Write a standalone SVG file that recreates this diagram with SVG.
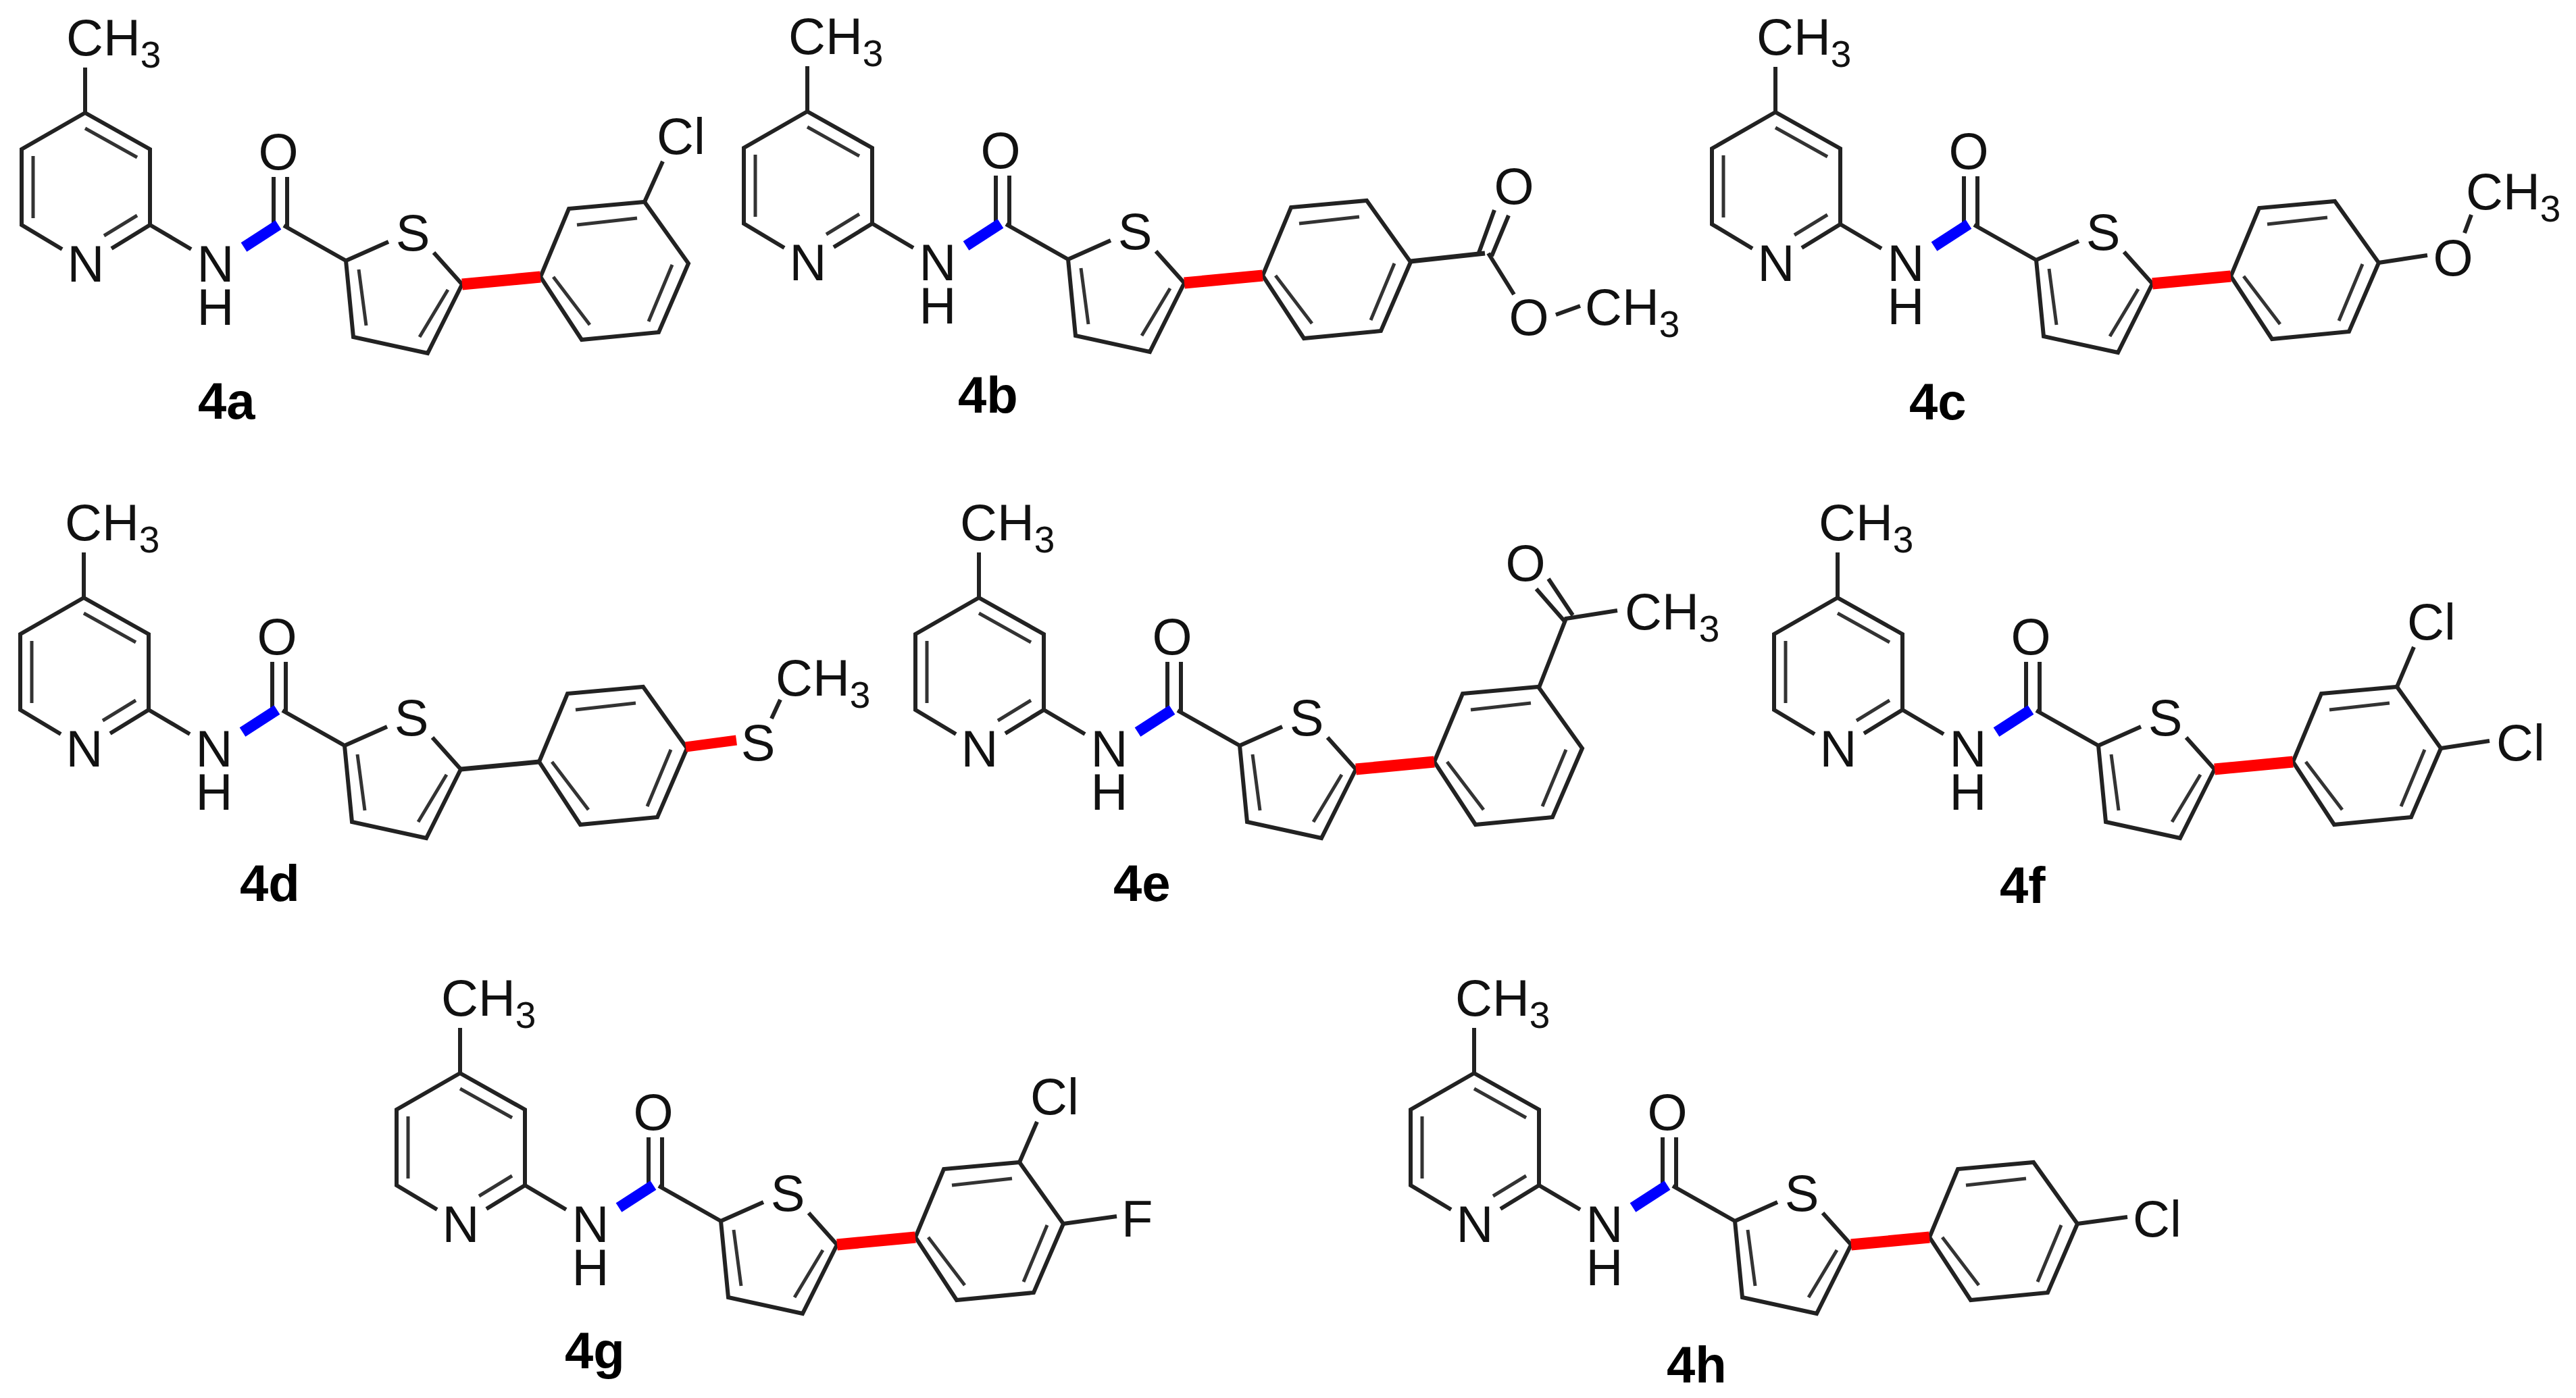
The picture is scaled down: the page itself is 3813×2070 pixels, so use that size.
<svg xmlns="http://www.w3.org/2000/svg" xmlns:xlink="http://www.w3.org/1999/xlink" width="3813" height="2070" viewBox="0 0 3813 2070">
<style>
.b{fill:none;stroke:#222;stroke-width:6;stroke-linecap:butt;stroke-linejoin:miter}
.i{fill:none;stroke:#333;stroke-width:5}
.red{fill:none;stroke:#f00;stroke-width:17}
.blue{fill:none;stroke:#00f;stroke-width:16}
.blk{fill:none;stroke:#222;stroke-width:7}
text{font-family:"Liberation Sans",Arial,sans-serif;font-size:76px;fill:#111}
.m{text-anchor:middle}
.s{font-size:55px}
.lab{font-weight:bold;font-size:76px;fill:#000}
</style>
<defs>
<g id="core">
<path class="b" d="M126 100V167L222 221V333L165 368M92 369L32 333V221L126 167M222 333L283 369M405 262V337M425 262V337M420 334L512 386L523 499L633 523L684 421L642 374M512 386L575 358M800 410L842 309L954 299L1019 390L975 492L861 503Z"/>
<path class="i" d="M49 231V323M126 190L203 233M203 319L154 349M531 399L542 482M663 429L621 499M854 333L943 323M995 392L960 476M873 481L819 410"/>
<path class="blue" d="M361 366L412 333"/>
</g>
</defs>

<g id="mol-4a">
<g id="mol-4a-bonds"><use href="#core"/><path class="red" d="M684 421L800 410"/><path class="b" d="M954 299L981 239"/></g>
<g id="mol-4a-atoms">
<text x="98" y="82">CH<tspan class="s" dy="18">3</tspan></text><text class="m" x="127" y="417">N</text><text class="m" x="319" y="417">N<tspan x="319" dy="64">H</tspan></text><text class="m" x="412" y="251">O</text><text class="m" x="611" y="371">S</text>
<text x="972" y="228">Cl</text></g>
<text class="lab" x="293" y="620">4a</text>
</g>

<g id="mol-4b">
<g id="mol-4b-bonds" transform="translate(1069,-2)"><use href="#core"/><path class="red" d="M684 421L800 410"/></g>
<g id="mol-4b-sub-bonds"><path class="blk" d="M2088 387L2198 375"/><path class="b" d="M2188 377L2212 311M2208 379L2233 319M2203 375L2241 436M2303 466L2339 453"/></g>
<g id="mol-4b-atoms" transform="translate(1069,-2)">
<text x="98" y="82">CH<tspan class="s" dy="18">3</tspan></text><text class="m" x="127" y="417">N</text><text class="m" x="319" y="417">N<tspan x="319" dy="64">H</tspan></text><text class="m" x="412" y="251">O</text><text class="m" x="611" y="371">S</text></g>
<text class="m" x="2241" y="302">O</text><text class="m" x="2263" y="496">O</text><text x="2346" y="481">CH<tspan class="s" dy="18">3</tspan></text>
<text class="lab" x="1418" y="611">4b</text>
</g>

<g id="mol-4c">
<g id="mol-4c-bonds" transform="translate(2502,-1)"><use href="#core"/><path class="red" d="M684 421L800 410"/></g>
<g id="mol-4c-sub-bonds"><path class="b" d="M3521 389L3593 378M3648 345L3658 318"/></g>
<g id="mol-4c-atoms" transform="translate(2502,-1)">
<text x="98" y="82">CH<tspan class="s" dy="18">3</tspan></text><text class="m" x="127" y="417">N</text><text class="m" x="319" y="417">N<tspan x="319" dy="64">H</tspan></text><text class="m" x="412" y="251">O</text><text class="m" x="611" y="371">S</text></g>
<text class="m" x="3631" y="408">O</text><text x="3650" y="310">CH<tspan class="s" dy="18">3</tspan></text>
<text class="lab" x="2826" y="621">4c</text>
</g>

<g id="mol-4d">
<g id="mol-4d-bonds" transform="translate(-2,718)"><use href="#core"/><path class="blk" d="M684 421L800 410"/></g>
<g id="mol-4d-sub-bonds"><path class="red" d="M1015 1106L1090 1096" style="stroke-width:15"/><path class="b" d="M1142 1064L1155 1036"/></g>
<g id="mol-4d-atoms" transform="translate(-2,718)">
<text x="98" y="82">CH<tspan class="s" dy="18">3</tspan></text><text class="m" x="127" y="417">N</text><text class="m" x="319" y="417">N<tspan x="319" dy="64">H</tspan></text><text class="m" x="412" y="251">O</text><text class="m" x="611" y="371">S</text></g>
<text class="m" x="1122" y="1126">S</text><text x="1148" y="1030">CH<tspan class="s" dy="18">3</tspan></text>
<text class="lab" x="355" y="1334">4d</text>
</g>

<g id="mol-4e">
<g id="mol-4e-bonds" transform="translate(1323,718)"><use href="#core"/><path class="red" d="M684 421L800 410"/></g>
<g id="mol-4e-sub-bonds"><path class="b" d="M2278 1018L2318 916L2394 904M2274 872L2316 920M2292 857L2328 911"/></g>
<g id="mol-4e-atoms" transform="translate(1323,718)">
<text x="98" y="82">CH<tspan class="s" dy="18">3</tspan></text><text class="m" x="127" y="417">N</text><text class="m" x="319" y="417">N<tspan x="319" dy="64">H</tspan></text><text class="m" x="412" y="251">O</text><text class="m" x="611" y="371">S</text></g>
<text class="m" x="2258" y="860">O</text><text x="2405" y="932">CH<tspan class="s" dy="18">3</tspan></text>
<text class="lab" x="1648" y="1334">4e</text>
</g>

<g id="mol-4f">
<g id="mol-4f-bonds" transform="translate(2594,718)"><use href="#core"/><path class="red" d="M684 421L800 410"/></g>
<g id="mol-4f-sub-bonds"><path class="b" d="M3548 1017L3573 958M3613 1108L3685 1097"/></g>
<g id="mol-4f-atoms" transform="translate(2594,718)">
<text x="98" y="82">CH<tspan class="s" dy="18">3</tspan></text><text class="m" x="127" y="417">N</text><text class="m" x="319" y="417">N<tspan x="319" dy="64">H</tspan></text><text class="m" x="412" y="251">O</text><text class="m" x="611" y="371">S</text></g>
<text x="3563" y="947">Cl</text><text x="3695" y="1126">Cl</text>
<text class="lab" x="2960" y="1337">4f</text>
</g>

<g id="mol-4g">
<g id="mol-4g-bonds" transform="translate(555,1422)"><use href="#core"/><path class="red" d="M684 421L800 410"/></g>
<g id="mol-4g-sub-bonds"><path class="b" d="M1509 1721L1535 1661M1574 1812L1653 1801"/></g>
<g id="mol-4g-atoms" transform="translate(555,1422)">
<text x="98" y="82">CH<tspan class="s" dy="18">3</tspan></text><text class="m" x="127" y="417">N</text><text class="m" x="319" y="417">N<tspan x="319" dy="64">H</tspan></text><text class="m" x="412" y="251">O</text><text class="m" x="611" y="371">S</text></g>
<text x="1525" y="1650">Cl</text><text x="1660" y="1831">F</text>
<text class="lab" x="836" y="2026">4g</text>
</g>

<g id="mol-4h">
<g id="mol-4h-bonds" transform="translate(2056,1422)"><use href="#core"/><path class="red" d="M684 421L800 410"/></g>
<g id="mol-4h-sub-bonds"><path class="b" d="M3075 1812L3149 1802"/></g>
<g id="mol-4h-atoms" transform="translate(2056,1422)">
<text x="98" y="82">CH<tspan class="s" dy="18">3</tspan></text><text class="m" x="127" y="417">N</text><text class="m" x="319" y="417">N<tspan x="319" dy="64">H</tspan></text><text class="m" x="412" y="251">O</text><text class="m" x="611" y="371">S</text></g>
<text x="3157" y="1831">Cl</text>
<text class="lab" x="2467" y="2047">4h</text>
</g>
</svg>
